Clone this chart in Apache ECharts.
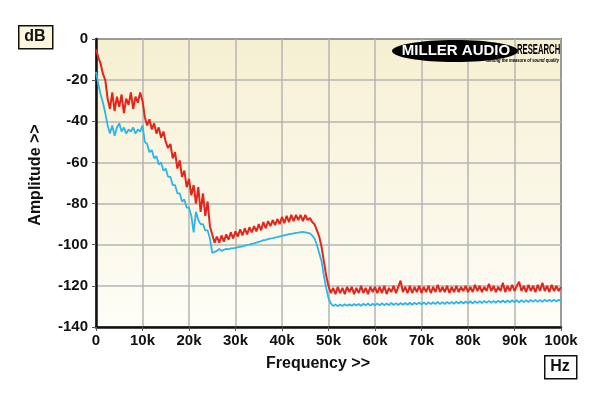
<!DOCTYPE html>
<html>
<head>
<meta charset="utf-8">
<script src="https://cdn.jsdelivr.net/npm/echarts@6/dist/echarts.min.js"></script>
<style>html,body{margin:0;padding:0;background:#fff}#c{width:600px;height:396px}</style>
</head>
<body>
<div id="c"></div>
<script>
// Frequency sampling step (kHz) for the arrays below, starting at 0 kHz
const STEP_KHZ = 0.5;
const xTicks = ['0','10k','20k','30k','40k','50k','60k','70k','80k','90k','100k'];
const yTicks = [0,-20,-40,-60,-80,-100,-120,-140];

// Red trace (dB), 0..100 kHz every 0.5 kHz
const redDb = [
  -5, -9, -12, -17, -20, -29, -34, -26, -35, -28,
  -33, -27, -36, -29, -32, -26, -34, -28, -31, -26,
  -30, -38, -42, -39, -44, -41, -46, -43, -48, -45,
  -50, -53, -51, -58, -55, -63, -59, -67, -64, -72,
  -68, -76, -71, -80, -72, -84, -75, -86, -79, -91,
  -95, -99, -96, -99, -95.5, -98.5, -95, -97.5, -94, -97,
  -93.5, -96, -92.5, -95.5, -92, -95, -91.5, -94, -91, -93.5,
  -90, -93, -89, -92, -88.5, -91, -88, -90.5, -87.5, -90,
  -86.5, -89.5, -86, -89, -85.5, -88.5, -85.5, -88, -85.5, -88.5,
  -85.5, -88, -87, -89, -90, -93, -96, -101, -108, -115,
  -120, -123.5, -121, -124, -120.5, -123.5, -121, -124, -120.5, -123,
  -120.5, -124, -121, -123.5, -120, -123.5, -121, -124, -120.5, -123,
  -120.5, -123.5, -120.5, -123.5, -120, -124, -121, -123, -120, -123.5,
  -120.5, -117.5, -123, -120.5, -123.5, -120, -123.5, -120.5, -123, -120,
  -123.5, -120.5, -123, -120, -123.5, -120.5, -123, -119.5, -123, -120.5,
  -123, -120, -123.5, -120.5, -123, -120, -123, -120.5, -122.5, -120,
  -123, -120.5, -123, -119.5, -122.5, -120, -123, -120.5, -122.5, -119,
  -122.5, -120, -123, -120.5, -122.5, -118.5, -123, -120, -122.5, -119.5,
  -122.5, -120, -118, -122.5, -120, -123, -119.5, -122.5, -120, -123,
  -119.5, -122.5, -118.5, -122.5, -120, -123, -119.5, -122.5, -120, -122.5,
  -120.5
];

// Blue trace (dB), 0..100 kHz every 0.5 kHz
const blueDb = [
  -16, -22, -27, -31, -36, -42, -46, -42, -47, -43,
  -41, -45, -43, -46, -44, -45, -43, -46, -44, -45,
  -42, -50, -51, -55, -54, -58, -57, -61, -60, -64,
  -63, -67, -67, -71, -71, -75, -75, -79, -78, -82,
  -82, -86, -94, -84, -88, -90, -90, -93, -93, -97,
  -104, -103.5, -103, -102, -103, -102.5, -102, -102.2, -101.8, -101.7,
  -101.5, -101.2, -101, -100.8, -100.5, -100.2, -100, -99.6, -99.3, -99,
  -98.6, -98.3, -97.8, -97.6, -97.3, -97, -96.8, -96.5, -96.3, -95.9,
  -95.7, -95.4, -95.2, -94.9, -94.7, -94.5, -94.2, -94.1, -93.9, -93.8,
  -94, -94.2, -94.5, -95.5, -97, -100, -104, -108, -115, -121,
  -126, -128.5, -129.8, -129, -129.9, -129.1, -129.8, -128.9, -129.7, -129,
  -129.7, -128.8, -129.6, -128.8, -129.7, -128.7, -129.5, -128.6, -129.6, -128.7,
  -129.5, -128.6, -129.5, -128.4, -129.4, -128.5, -129.4, -128.3, -129.3, -128.4,
  -129.3, -128.3, -129.2, -128.3, -129.2, -128.2, -129.2, -128.2, -129, -128.1,
  -129, -128.1, -129, -128, -128.9, -128, -128.9, -127.8, -128.8, -127.9,
  -128.8, -127.8, -128.7, -127.8, -128.7, -127.7, -128.6, -127.6, -128.6, -127.6,
  -128.5, -127.5, -128.5, -127.5, -128.4, -127.4, -128.4, -127.3, -128.3, -127.3,
  -128.2, -127.3, -128.2, -127.2, -128.1, -127.1, -128.1, -127.1, -128, -127,
  -128, -127, -128, -126.9, -127.9, -126.9, -127.9, -126.8, -127.8, -126.8,
  -127.8, -126.8, -127.8, -126.7, -127.7, -126.7, -127.7, -126.7, -127.6, -126.8,
  -127.3
];

const toPairs = arr => arr.map((v, i) => [i * STEP_KHZ, v]);

const chart = echarts.init(document.getElementById('c'), null, {renderer: 'canvas'});
const FONT = 'Liberation Sans, Arial, sans-serif';
const labelStyle = {color: '#111', fontFamily: FONT, fontWeight: 'bold', fontSize: 15};

chart.setOption({
  animation: false,
  backgroundColor: '#ffffff',
  grid: {
    left: 96, right: 39, top: 39, bottom: 69,
    show: true,
    backgroundColor: new echarts.graphic.LinearGradient(0, 0, 0, 1, [
      {offset: 0, color: '#f6f0d2'},
      {offset: 1, color: '#fefdf7'}
    ]),
    borderColor: '#111', borderWidth: 1.5
  },
  xAxis: {
    type: 'value', min: 0, max: 100, interval: 10,
    axisLine: {show: true, onZero: false, lineStyle: {color: '#111', width: 2.5}},
    axisTick: {show: true, length: 4, lineStyle: {color: '#555', width: 1}},
    axisLabel: Object.assign({margin: 6, formatter: v => xTicks[Math.round(v / 10)]}, labelStyle),
    splitLine: {show: true, lineStyle: {color: '#b4b4b4', width: 1.5}}
  },
  yAxis: {
    type: 'value', min: -140, max: 0, interval: 20,
    axisLine: {show: true, onZero: false, lineStyle: {color: '#111', width: 2.5}},
    axisTick: {show: true, length: 4, lineStyle: {color: '#555', width: 1}},
    axisLabel: Object.assign({margin: 8, formatter: v => String(yTicks[yTicks.indexOf(v)])}, labelStyle),
    splitLine: {show: true, lineStyle: {color: '#b4b4b4', width: 1.5}}
  },
  series: [
    {type: 'line', data: toPairs(redDb), showSymbol: false, lineStyle: {color: '#e3261b', width: 2}, itemStyle: {color: '#e3261b'}, z: 3},
    {type: 'line', data: toPairs(blueDb), showSymbol: false, lineStyle: {color: '#2cb5e8', width: 1.8}, itemStyle: {color: '#2cb5e8'}, z: 4}
  ],
  graphic: [
    {type: 'text', x: 318, y: 364, style: {text: 'Frequency >>', fill: '#111', font: 'bold 16px ' + FONT, textAlign: 'center', textVerticalAlign: 'middle'}, z: 11},
    {type: 'text', x: 36, y: 175, rotation: Math.PI / 2, style: {text: 'Amplitude >>', fill: '#111', font: 'bold 16px ' + FONT, textAlign: 'center', textVerticalAlign: 'middle'}, z: 11},
    {type: 'rect', left: 18, top: 25, shape: {width: 34, height: 23}, style: {fill: '#fbf6dc', stroke: '#111', lineWidth: 1.5}, z: 10},
    {type: 'text', x: 35, y: 37, style: {text: 'dB', fill: '#111', font: 'bold 16px ' + FONT, textAlign: 'center', textVerticalAlign: 'middle'}, z: 11},
    {type: 'rect', left: 544, top: 355, shape: {width: 32, height: 23}, style: {fill: '#ffffff', stroke: '#111', lineWidth: 1.5}, z: 10},
    {type: 'text', x: 560, y: 367, style: {text: 'Hz', fill: '#111', font: 'bold 16px ' + FONT, textAlign: 'center', textVerticalAlign: 'middle'}, z: 11},
    {type: 'ellipse', shape: {cx: 455, cy: 51, rx: 63, ry: 11}, style: {fill: '#000'}, z: 10},
    {type: 'text', x: 456, y: 51, style: {text: 'MILLER AUDIO', fill: '#fff', font: 'bold 15px ' + FONT, textAlign: 'center', textVerticalAlign: 'middle'}, z: 11},
    {type: 'text', x: 517, y: 50, scaleX: 0.55, style: {text: 'RESEARCH', fill: '#000', font: 'bold 14px ' + FONT, textAlign: 'left', textVerticalAlign: 'middle'}, z: 11},
    {type: 'text', x: 559, y: 60, scaleX: 0.75, style: {text: 'Getting the measure of sound quality', fill: '#000', font: 'italic bold 5.5px ' + FONT, textAlign: 'right', textVerticalAlign: 'middle'}, z: 11}
  ]
});
</script>
</body>
</html>
